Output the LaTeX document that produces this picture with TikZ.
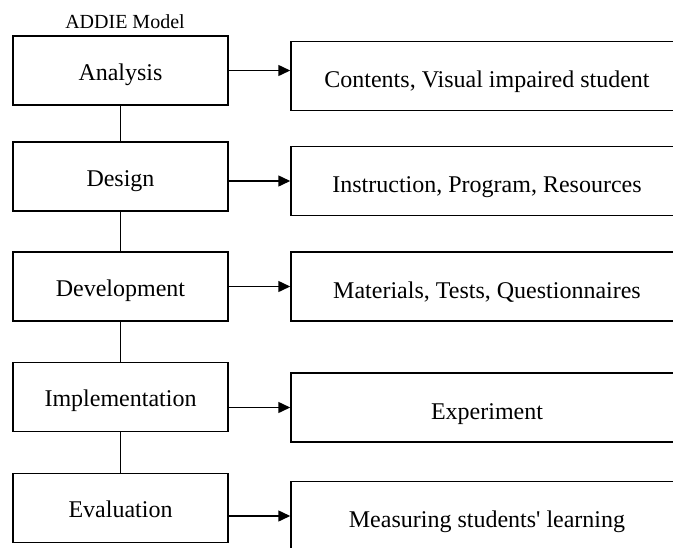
\documentclass[tikz,border=0pt]{standalone}
\usepackage{fontspec}
\setmainfont{Liberation Serif}
\usetikzlibrary{arrows.meta}

\begin{document}
\begin{tikzpicture}[x=1pt,y=-1pt,line width=1.5pt,>={Triangle[length=12pt,width=11pt]},
    stage/.style={draw,minimum width=215pt,minimum height=69pt,inner sep=0pt,
      text height=24pt,text depth=5pt,font=\fontsize{24}{28}\selectfont},
    result/.style={draw,minimum width=392pt,minimum height=69pt,inner sep=0pt,
      text height=28pt,text depth=5pt,font=\fontsize{24}{28}\selectfont}]
  \useasboundingbox (0,0) rectangle (673,547);
  % titulo
  \node (title) at (125,22) {\fontsize{20}{24}\selectfont ADDIE Model};
  % fases del modelo
  \node[stage] (ana) at (120.5,70.5) {Analysis};
  \node[stage] (des) at (120.5,176.5) {Design};
  \node[stage] (dev) at (120.5,286.5) {Development};
  \node[stage] (imp) at (120.5,397) {Implementation};
  \node[stage] (eva) at (120.5,508) {Evaluation};
  % resultados de cada fase
  \node[result] (rana) at (487,76) {Contents, Visual impaired student};
  \node[result] (rdes) at (487,181) {Instruction, Program, Resources};
  \node[result] (rdev) at (487,286.5) {Materials, Tests, Questionnaires};
  \node[result] (rimp) at (487,407.5) {Experiment};
  \node[result] (reva) at (487,516) {Measuring students\textquotesingle\ learning};
  % uniones verticales
  \draw[line width=0.8pt] (ana) -- (des);
  \draw[line width=0.8pt] (des) -- (dev);
  \draw[line width=0.8pt] (dev) -- (imp);
  \draw[line width=0.8pt] (imp) -- (eva);
  % flechas
  \draw[->] (ana.east) -- (ana.east -| rana.west);
  \draw[->] (rdes.west -| des.east) -- (rdes.west);
  \draw[->] (rdev.west -| dev.east) -- (rdev.west);
  \draw[->] (rimp.west -| imp.east) -- (rimp.west);
  \draw[->] (reva.west -| eva.east) -- (reva.west);
\end{tikzpicture}
\end{document}
